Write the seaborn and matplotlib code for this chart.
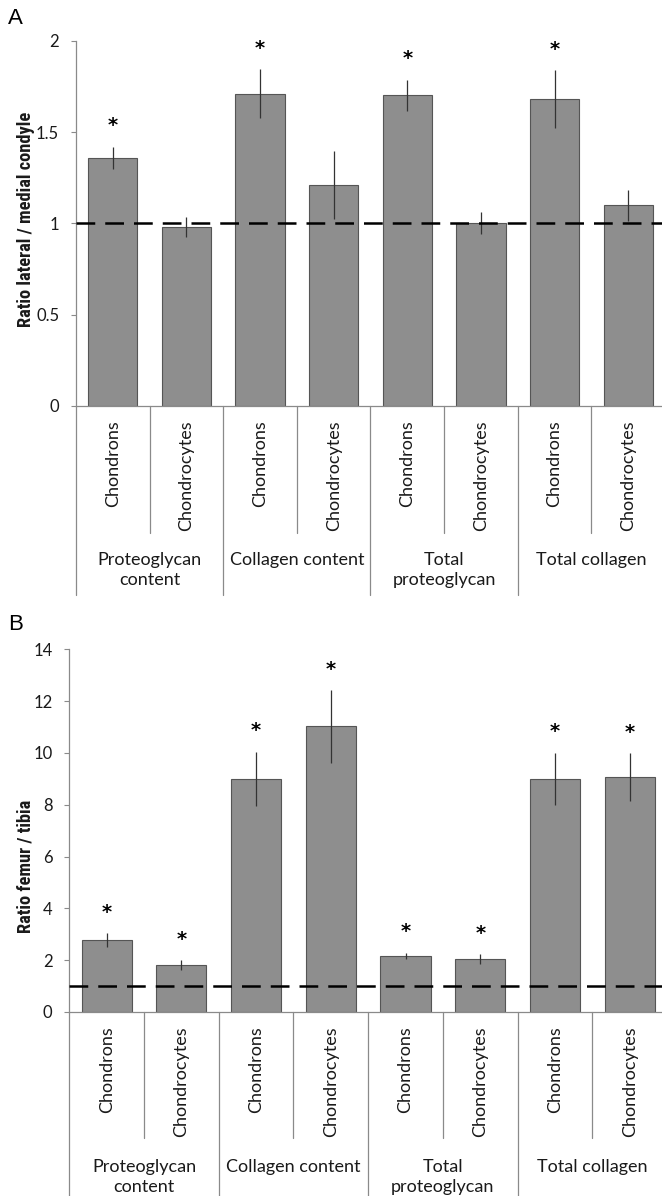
import matplotlib
matplotlib.use("Agg")
import matplotlib.pyplot as plt
from matplotlib import font_manager
import seaborn as sns
import pandas as pd
import numpy as np

# ---------------- data ----------------
groups = ["Proteoglycan\ncontent", "Collagen content", "Total\nproteoglycan", "Total collagen"]
cells = ["Chondrons", "Chondrocytes"]

a_values = [1.36, 0.98, 1.71, 1.21, 1.70, 1.00, 1.68, 1.10]
a_errors = [0.06, 0.053, 0.133, 0.187, 0.087, 0.06, 0.157, 0.085]
a_signif = [1, 0, 1, 0, 1, 0, 1, 0]
a_ticks = [0, 0.5, 1, 1.5, 2]
a_ticklabels = ["0", "0.5", "1", "1.5", "2"]
a_ylabel = "Ratio lateral / medial condyle"

b_values = [2.78, 1.81, 9.01, 11.03, 2.17, 2.05, 9.00, 9.08]
b_errors = [0.27, 0.19, 1.04, 1.40, 0.12, 0.18, 1.01, 0.92]
b_signif = [1, 1, 1, 1, 1, 1, 1, 1]
b_ticks = [0, 2, 4, 6, 8, 10, 12, 14]
b_ticklabels = ["0", "2", "4", "6", "8", "10", "12", "14"]
b_ylabel = "Ratio femur / tibia"

reference = 1.0

# ---------------- style ----------------
sns.set_theme(style="white")
plt.rcParams["font.family"] = ["Lato", "DejaVu Sans"]

# narrow bold face for the y label if one is installed (Calibri-like width)
_avail = {(f.name, f.stretch) for f in font_manager.fontManager.ttflist}
_names = {n for n, _ in _avail}
label_font = None
label_stretch = "normal"
for cand in ["Liberation Sans Narrow", "Roboto Condensed", "Open Sans Condensed",
             "Noto Sans Condensed", "DejaVu Sans Condensed"]:
    if cand in _names:
        label_font = cand
        break
if label_font is None:
    for n, st in _avail:
        if n in ("DejaVu Sans", "Noto Sans", "Open Sans", "Roboto") and str(st) in ("condensed", "semi-condensed", "extra-condensed", "75", "87"):
            label_font = n
            label_stretch = "condensed"
            break
LABEL_SIZE = 13.2
if label_font is None:
    label_font = "Lato"
    LABEL_SIZE = 10.5

BAR = "#8e8e8e"
EDGE = "#555555"
AXC = "#8a8a8a"
TXT = "#1a1a1a"

W, H = 662, 1196
fig = plt.figure(figsize=(W / 100, H / 100), dpi=100)


def make_panel(rect_px, values, errors, signif, ticks, ticklabels, ylabel, letter,
               letter_xy, short_px, long_px, group_top_px, label_px):
    l, t, r, b = rect_px
    ax = fig.add_axes([l / W, 1 - b / H, (r - l) / W, (b - t) / H])
    keys = [f"{g}|{c}" for g in groups for c in cells]
    df = pd.DataFrame({"key": keys, "value": values})
    sns.barplot(data=df, x="key", y="value", order=keys, color=BAR, saturation=1,
                errorbar=None, width=0.67, edgecolor=EDGE, linewidth=0.8, ax=ax, zorder=2)
    ax.errorbar(np.arange(len(values)), values, yerr=errors, fmt="none",
                ecolor="#333333", elinewidth=0.9, capsize=0, zorder=3)
    ax.axhline(reference, color="black", lw=1.8, ls=(0, (7.5, 4.0)), zorder=4)
    for i, (v, e, s) in enumerate(zip(values, errors, signif)):
        if s:
            ax.annotate("*", xy=(i, v + e), xytext=(0, 11), textcoords="offset points",
                        ha="center", va="baseline", fontsize=14, fontweight="bold",
                        color="black", family="DejaVu Sans")
    ax.set_xlim(-0.5, 7.5)
    ax.set_ylim(ticks[0], ticks[-1])
    ax.set_yticks(ticks)
    ax.set_yticklabels(ticklabels, fontsize=12, color=TXT)
    ax.set_xticks(range(len(keys)))
    ax.set_xticklabels([k.split("|")[1] for k in keys], rotation=90, fontsize=13,
                       color=TXT, va="top")
    ax.tick_params(axis="x", length=0, pad=10)
    ax.tick_params(axis="y", length=3.6, width=0.8, color=AXC, direction="out", pad=8.5, left=True)
    for s in ["top", "right"]:
        ax.spines[s].set_visible(False)
    for s in ["left", "bottom"]:
        ax.spines[s].set_color(AXC)
        ax.spines[s].set_linewidth(0.9)
    ax.set_xlabel("")
    ax.set_ylabel(ylabel, fontsize=LABEL_SIZE, fontweight="bold", family=label_font,
                  fontstretch=label_stretch, color=TXT)
    hpx = b - t
    wpx = r - l
    ax.yaxis.set_label_coords((label_px[0] - l) / wpx, (b - label_px[1]) / hpx)
    ax.grid(False)

    trans = ax.get_xaxis_transform()
    # category separators below the axis
    for k in range(len(keys) + 1):
        x = k - 0.5
        length = long_px if k % 2 == 0 else short_px
        ax.plot([x, x], [0, -length / hpx], transform=trans, color=AXC, lw=0.9,
                clip_on=False, zorder=1)
    # group labels
    for gi, g in enumerate(groups):
        ax.text(2 * gi + 0.5, -(group_top_px - b) / hpx, g, transform=trans,
                ha="center", va="top", fontsize=13, color=TXT, linespacing=1.33)
    fig.text(letter_xy[0] / W, 1 - letter_xy[1] / H, letter, fontsize=16,
             family="Liberation Sans", ha="left", va="top", color="black")
    return ax


make_panel((76, 40.7, 665, 406), a_values, a_errors, a_signif, a_ticks, a_ticklabels,
           a_ylabel, "A", (8, 8), 127, 189, 552, (35, 219))
make_panel((69.3, 649.3, 667, 1012), b_values, b_errors, b_signif, b_ticks, b_ticklabels,
           b_ylabel, "B", (8, 614), 126, 200, 1159, (35, 866))

fig.savefig("out.png", dpi=100)
